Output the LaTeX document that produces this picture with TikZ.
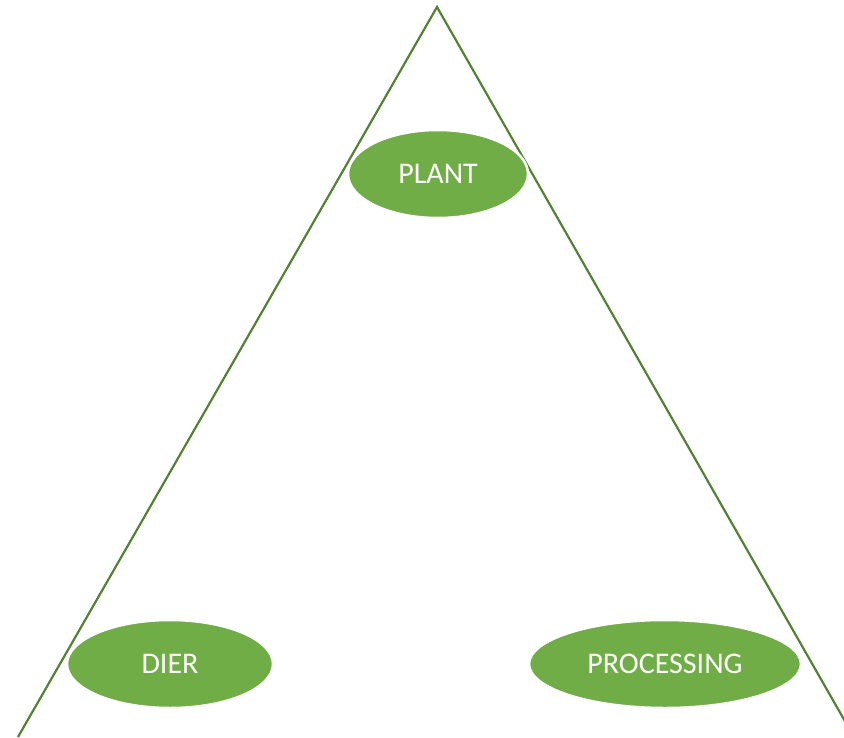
\documentclass[tikz,border=0pt]{standalone}
\usepackage{fontspec}
\setmainfont{Carlito}
\usetikzlibrary{shapes.geometric}
\definecolor{fillgreen}{HTML}{70AD47}
\definecolor{linegreen}{HTML}{548235}
\tikzset{
  blob/.style={ellipse, fill=fillgreen, draw=white, line width=2.5pt, inner sep=0pt,
    text=white, font=\fontsize{30}{35}\selectfont},
  edge/.style={draw=linegreen, line width=2.2pt}
}
\begin{document}
\begin{tikzpicture}[x=1pt,y=-1pt]
\useasboundingbox (0,0) rectangle (844,737);
\clip (0,0) rectangle (844,737);
\coordinate (apex) at (437,7);
\coordinate (bl) at (18,737);
\coordinate (br) at (854,737);
\draw[edge, line join=miter] (bl) -- (apex) -- (br);
\node[blob, minimum width=180pt, minimum height=88pt] (plant) at (438,174) {PLANT};
\node[blob, minimum width=206pt, minimum height=88pt] (dier) at (170,664) {DIER};
\node[blob, minimum width=272pt, minimum height=88pt] (proc) at (665,664) {PROCESSING};
\end{tikzpicture}
\end{document}
